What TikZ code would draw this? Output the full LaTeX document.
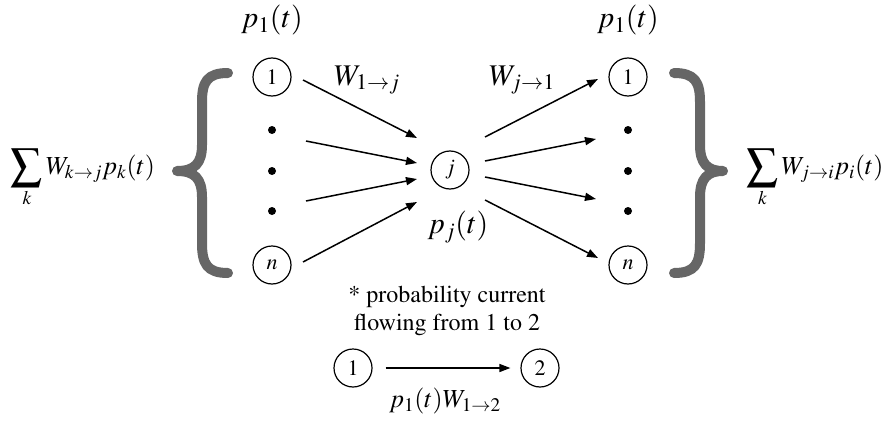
\documentclass[tikz,border=0pt]{standalone}
\usepackage[T1]{fontenc}
\usepackage{mathptmx}
\usepackage{graphicx}
\usetikzlibrary{arrows.meta}
\tikzset{
  state/.style={circle,draw,line width=1.2pt,minimum size=38pt,inner sep=0pt,font=\fontsize{22}{24}\selectfont},
  dotnode/.style={circle,fill,minimum size=8pt,inner sep=0pt},
  flow/.style={line width=1.5pt,-{Triangle[length=11pt,width=8pt]}},
  brace/.style={line width=10pt,draw=black!60,line cap=round,line join=round},
  big/.style={font=\fontsize{30}{34}\selectfont},
  med/.style={font=\fontsize{26}{30}\selectfont},
  note/.style={font=\fontsize{24}{28}\selectfont},
}
\newcommand{\bigsum}{\mathop{\vcenter{\hbox{\scalebox{1.2}{$\displaystyle\sum$}}}}\limits}
\begin{document}
\begin{tikzpicture}[x=1pt,y=-1pt]
\useasboundingbox (0,0) rectangle (886,428);
% left column
\node[big] (tl) at (272,20) {$p_1(t)$};
\node[state] (l1) at (272,77) {1};
\node[dotnode] (ld1) at (272,130) {};
\node[dotnode] (ld2) at (272,171) {};
\node[dotnode] (ld3) at (272,211) {};
\node[state] (ln) at (272,265) {$n$};
% centre
\node[state] (j) at (450,170) {$j$};
\node[big] (pj) at (458,227) {$p_j(t)$};
\node[big] (w1j) at (367,80) {$W_{1\to j}$};
\node[big] (wj1) at (522,80) {$W_{j\to 1}$};
% right column
\node[big] (tr) at (628,20) {$p_1(t)$};
\node[state] (r1) at (628,77) {1};
\node[dotnode] (rd1) at (628,130) {};
\node[dotnode] (rd2) at (628,171) {};
\node[dotnode] (rd3) at (628,211) {};
\node[state] (rn) at (628,265) {$n$};
% sums
\node[med] (sl) at (83,178) {$\displaystyle\bigsum_k W_{k\to j}p_k(t)$};
\node[med] (sr) at (815,178) {$\displaystyle\bigsum_k W_{j\to i}p_i(t)$};
% braces
\draw[brace] (228,73) .. controls (207,73) and (202,82) .. (202,102) -- (202,145)
  .. controls (202,163) and (195,171) .. (177,171)
  .. controls (195,171) and (202,179) .. (202,197) -- (202,243)
  .. controls (202,264) and (207,273) .. (228,273);
\draw[brace] (674,73) .. controls (695,73) and (700,82) .. (700,102) -- (700,145)
  .. controls (700,163) and (707,171) .. (723,171)
  .. controls (707,171) and (700,179) .. (700,197) -- (700,243)
  .. controls (700,264) and (695,273) .. (674,273);
% arrow end points
\coordinate (a1s) at (303,80);  \coordinate (a1e) at (417,138);
\coordinate (a2s) at (306,141); \coordinate (a2e) at (417,163);
\coordinate (a3s) at (306,201); \coordinate (a3e) at (417,179);
\coordinate (a4s) at (303,262); \coordinate (a4e) at (417,202);
\coordinate (b1s) at (485,137); \coordinate (b1e) at (598,79);
\coordinate (b2s) at (485,161); \coordinate (b2e) at (596,139);
\coordinate (b3s) at (485,177); \coordinate (b3e) at (596,199);
\coordinate (b4s) at (485,200); \coordinate (b4e) at (598,258);
\foreach \i in {1,2,3,4} {
  \draw[flow] (a\i s) -- (a\i e);
  \draw[flow] (b\i s) -- (b\i e);
}
% bottom note
\node[note,align=center] (txt) at (447,311) {* probability current\\flowing from 1 to 2};
\node[state] (c1) at (353,368) {1};
\node[state] (c2) at (540,368) {2};
\draw[flow] ([xshift=13pt]c1.east) -- ([xshift=-10pt]c2.west);
\node[med] (cur) at (445,401) {$p_1(t)W_{1\to 2}$};
\end{tikzpicture}
\end{document}
